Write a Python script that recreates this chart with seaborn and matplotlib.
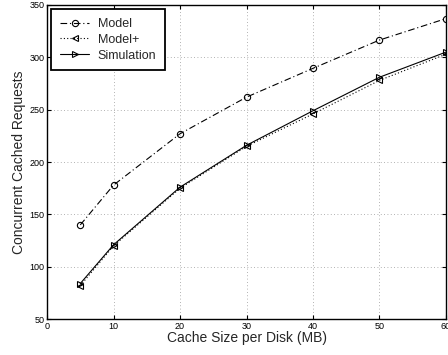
import matplotlib
matplotlib.use("Agg")
import matplotlib.pyplot as plt
import seaborn as sns
import pandas as pd

cache_mb = [5, 10, 20, 30, 40, 50, 60]
model = [140, 178, 227, 262, 289.5, 316.5, 337]
model_plus = [82, 120, 175, 215, 246, 278, 303]
simulation = [84, 121, 176, 216, 249, 281, 305]

x_ticks = [0, 10, 20, 30, 40, 50, 60]
y_ticks = [50, 100, 150, 200, 250, 300, 350]

sns.set_theme(style="white")
plt.rcParams['font.family'] = ['Liberation Sans', 'DejaVu Sans']

fig = plt.figure(figsize=(4.48, 3.55), dpi=100)
ax = fig.add_axes([0.105, 0.101, 0.8905, 0.885])

df = pd.DataFrame({"x": cache_mb, "Model": model, "Model+": model_plus, "Simulation": simulation})

styles = {
    "Model": dict(linestyle=(0, (6, 2.5, 1, 2.5)), marker="o"),
    "Model+": dict(linestyle=(0, (1, 2)), marker="<"),
    "Simulation": dict(linestyle="-", marker=">"),
}
for name, st in styles.items():
    sns.lineplot(data=df, x="x", y=name, ax=ax, color="black", linewidth=0.8,
                 linestyle=st["linestyle"], marker=st["marker"], markersize=4.5,
                 markerfacecolor="none", markeredgecolor="black", markeredgewidth=0.8,
                 label=name)

ax.set_xlim(0, 60)
ax.set_ylim(50, 350)
ax.set_xticks(x_ticks)
ax.set_yticks(y_ticks)
ax.tick_params(direction="in", length=3, width=0.8, labelsize=6.5, top=True, right=True,
               bottom=True, left=True, colors="black", pad=2)
ax.grid(True, linestyle=(0, (1, 3)), color="#999999", linewidth=0.6)
for s in ax.spines.values():
    s.set_color("black")
    s.set_linewidth(1.0)
ax.set_xlabel("Cache Size per Disk (MB)", fontsize=10, labelpad=0)
ax.set_ylabel("Concurrent Cached Requests", fontsize=10, labelpad=2)

leg = ax.legend(loc="upper left", fontsize=9, frameon=True, fancybox=False,
                edgecolor="black", framealpha=1, borderpad=0.7, handlelength=2.3,
                handletextpad=0.7, labelspacing=0.3, borderaxespad=0.35)
leg.get_frame().set_linewidth(1.3)

fig.savefig("out.png", dpi=100)
